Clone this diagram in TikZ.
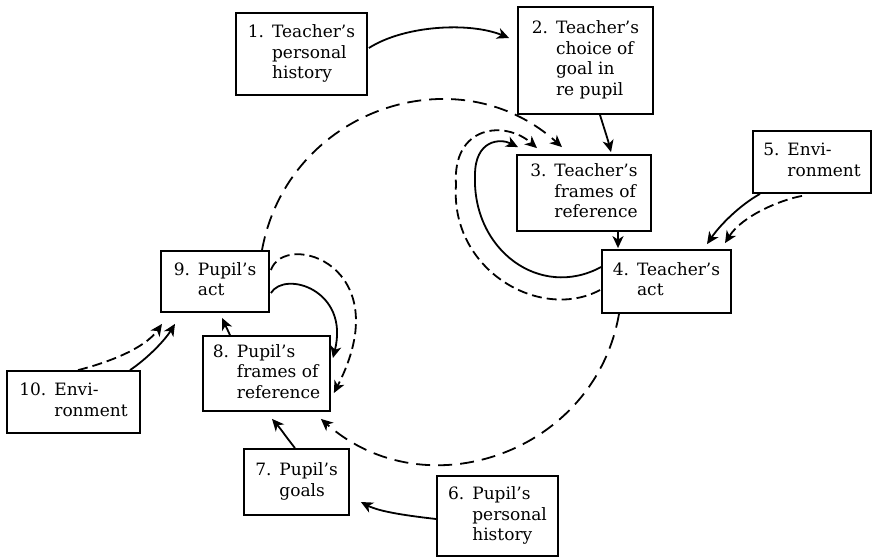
\documentclass[tikz,border=0pt]{standalone}
\usepackage{fontspec}
\setmainfont{DejaVu Serif}
\usetikzlibrary{arrows.meta,calc}
\newcommand{\boxtext}[2]{\begin{tabular}[c]{@{}l@{\hspace{8pt}}l@{}}#1&#2\end{tabular}}
\begin{document}
\begin{tikzpicture}[x=1pt,y=-1pt,
  box/.style={draw, line width=1.8pt, inner sep=0pt, font=\fontsize{17}{20.5}\selectfont},
  con/.style={line width=1.8pt, -{Stealth[length=12pt,width=11pt,inset=3.5pt]}},
  dsh/.style={con, dash pattern=on 14pt off 8pt},
  dshs/.style={con, dash pattern=on 10pt off 5pt}]
\useasboundingbox (0,0) rectangle (873,558);

\node[box, minimum width=131pt, minimum height=82pt]  (n1)  at (301.5,54)  {\boxtext{1.}{Teacher's\\&personal\\&history}};
\node[box, minimum width=135pt, minimum height=107pt] (n2)  at (585.5,60.5) {\boxtext{2.}{Teacher's\\&choice of\\&goal in\\&re pupil}};
\node[box, minimum width=134pt, minimum height=76pt]  (n3)  at (584,193)   {\boxtext{3.}{Teacher's\\&frames of\\&reference}};
\node[box, minimum width=129pt, minimum height=63pt]  (n4)  at (666.5,281.5) {\boxtext{4.}{Teacher's\\&act}};
\node[box, minimum width=118pt, minimum height=62pt]  (n5)  at (812,162)   {\boxtext{5.}{Envi-\\&ronment}};
\node[box, minimum width=121pt, minimum height=80pt]  (n6)  at (497.5,516) {\boxtext{6.}{Pupil's\\&personal\\&history}};
\node[box, minimum width=105pt, minimum height=66pt]  (n7)  at (296.5,482) {\boxtext{7.}{Pupil's\\&goals}};
\node[box, minimum width=127pt, minimum height=75pt]  (n8)  at (266.5,373.5) {\boxtext{8.}{Pupil's\\&frames of\\&reference}};
\node[box, minimum width=108pt, minimum height=61pt]  (n9)  at (215,281.5) {\boxtext{9.}{Pupil's\\&act}};
\node[box, minimum width=133pt, minimum height=62pt]  (n10) at (73.5,402)  {\boxtext{10.}{Envi-\\&ronment}};

% 1 -> 2
\draw[con] ($(n1.east)+(1,-6)$) .. controls (405,25) and (470,22) .. ($(n2.west)+(-8,-22.5)$);
% 2 -> 3
\draw[con] ($(n2.south)+(14.5,0)$) .. controls (604,128) and (608,140) .. ($(n3.north)+(27,-2)$);
% 3 -> 4
\draw[con] ($(n3.south)+(34,0)$) -- ($(n4.north)+(-48.5,-1)$);
% 5 -> 4
\draw[con] ($(n5.south)+(-52,0)$) .. controls (740,205) and (720,225) .. ($(n4.north)+(40.5,-5)$);
\draw[dshs] ($(n5.south)+(-10,2)$) .. controls (780,200) and (742,216) .. ($(n4.north)+(58.5,-6)$);
% 4 -> 3 loops
\draw[con] ($(n4.west)+(0,-14.5)$) .. controls (540,300) and (472,250) .. (475,175)
   .. controls (475,140) and (500,138) .. ($(n3.north)+(-66,-7)$);
\draw[dshs] ($(n4.west)+(-1,8.5)$) .. controls (540,322) and (450,270) .. (456,185)
   .. controls (452,125) and (505,120) .. ($(n3.north)+(-47,-6)$);
% 9 -> 3 big arc
\draw[dsh] ($(n9.north)+(47,0)$) .. controls (287.8,109.5) and (457,52.5) .. ($(n3.north)+(-22,-7)$);
% 4 -> 8 big arc
\draw[dsh] ($(n4.south)+(-47.5,0)$) .. controls (595,452.5) and (426,511.6) .. ($(n8.south east)+(-10,7)$);
% 9 -> 8 loops
\draw[con] ($(n9.east)+(1,11.5)$) .. controls (285,270) and (350,290) .. ($(n8.east)+(2,-15.5)$);
\draw[dshs] ($(n9.east)+(1,-11.5)$) .. controls (285,230) and (400,265) .. ($(n8.east)+(3,19.5)$);
% 10 -> 9
\draw[con] ($(n10.north)+(56.5,0)$) .. controls (148,358) and (165,340) .. ($(n9.south)+(-40,11)$);
\draw[dshs] ($(n10.north)+(4.5,0)$) .. controls (110,362) and (145,348) .. ($(n9.south)+(-53,11)$);
% 8 -> 9
\draw[con] ($(n8.north)+(-36.5,0)$) -- ($(n9.south)+(7,5)$);
% 7 -> 8
\draw[con] ($(n7.north)+(-1.5,0)$) .. controls (287,438) and (280,428) .. ($(n8.south)+(5.5,7)$);
% 6 -> 7
\draw[con] ($(n6.west)+(0,3)$) .. controls (410,516) and (380,512) .. ($(n7.east)+(11,20)$);
\end{tikzpicture}
\end{document}
